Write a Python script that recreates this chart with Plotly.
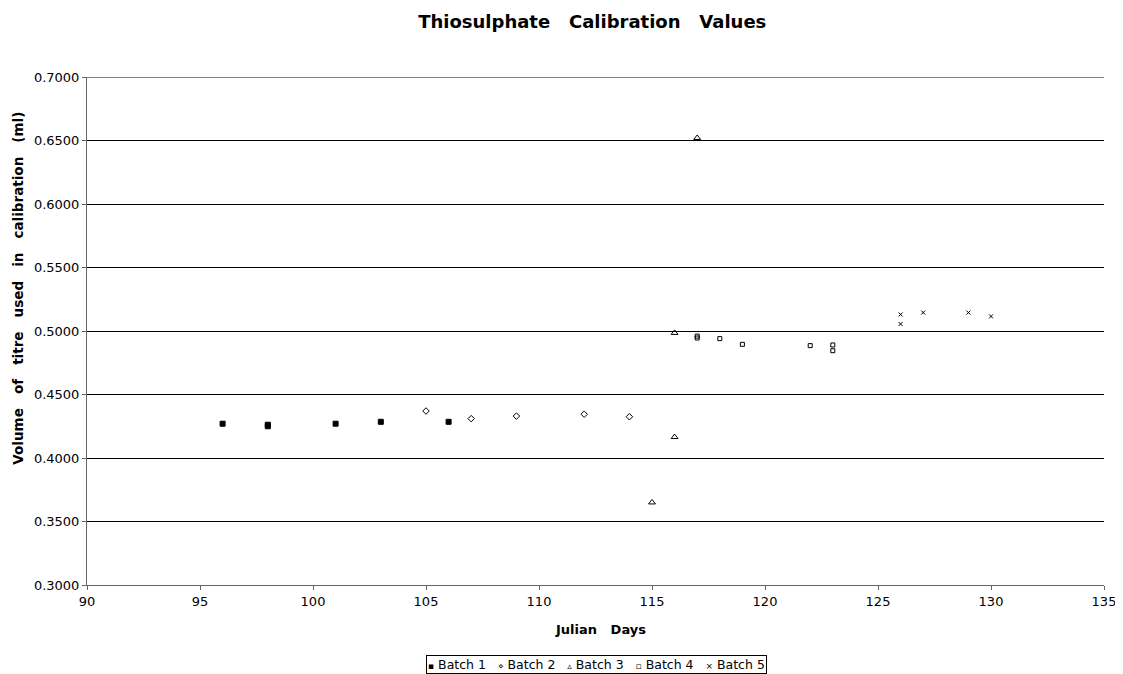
import plotly.graph_objects as go

# Julian day / titre volume per batch
b1_days = [96, 98, 98, 101, 103, 106]
b1_vals = [0.4270, 0.4262, 0.4250, 0.4270, 0.4285, 0.4285]

b2_days = [105, 107, 109, 112, 114]
b2_vals = [0.4370, 0.4310, 0.4330, 0.4345, 0.4325]

b3_days = [115, 116, 116, 117]
b3_vals = [0.3650, 0.4165, 0.4985, 0.6520]

b4_days = [117, 117, 118, 119, 122, 123, 123]
b4_vals = [0.4960, 0.4945, 0.4940, 0.4895, 0.4885, 0.4890, 0.4845]

b5_days = [126, 126, 127, 129, 130]
b5_vals = [0.5130, 0.5055, 0.5145, 0.5145, 0.5115]

font = "DejaVu Sans"

fig = go.Figure()

series = [
    ("Batch 1", b1_days, b1_vals, "square", 5, "▪"),
    ("Batch 2", b2_days, b2_vals, "diamond-open", 5, "⋄"),
    ("Batch 3", b3_days, b3_vals, "triangle-up-open", 6, "▵"),
    ("Batch 4", b4_days, b4_vals, "square-open", 4, "▫"),
    ("Batch 5", b5_days, b5_vals, "x-thin-open", 4, "×"),
]
for name, xs, ys, sym, size, _ in series:
    fig.add_trace(go.Scatter(
        x=xs, y=ys, name=name, mode="markers",
        marker=dict(symbol=sym, size=size, color="black",
                    line=dict(color="black", width=1)),
    ))

# top gridline at the edge of the range
fig.add_shape(type="line", xref="paper", yref="y", x0=0, x1=1, y0=0.7, y1=0.7,
              line=dict(color="black", width=1))

# compact boxed legend, like the original
legend_text = "   ".join(
    f'<span style="font-size:9px">{glyph}</span> {name}' for name, *_, glyph in series
)
fig.add_annotation(
    text=legend_text, xref="paper", yref="paper", x=0.5005, y=-0.157,
    xanchor="center", yanchor="middle", showarrow=False,
    font=dict(size=12.5, family=font), bordercolor="black", borderwidth=1,
    borderpad=1, bgcolor="white",
)

# axis titles placed as in the original (y title sits above centre)
fig.add_annotation(
    text="<b>Julian   Days</b>", xref="paper", yref="paper", x=0.505, y=-0.087,
    xanchor="center", yanchor="middle", showarrow=False,
    font=dict(size=13, family=font),
)
fig.add_annotation(
    text="<b>Volume   of   titre   used   in   calibration   (ml)</b>",
    xref="paper", yref="paper", x=-0.068, y=0.585, textangle=-90,
    xanchor="center", yanchor="middle", showarrow=False,
    font=dict(size=13.5, family=font),
)

# page body has an 8px margin, so the figure is sized to fit the window
fig.update_layout(
    width=1115, height=666,
    paper_bgcolor="white", plot_bgcolor="white",
    margin=dict(l=79, r=19, t=69, b=89, autoexpand=False),
    font=dict(family=font, size=13, color="black"),
    title=dict(text="<b>Thiosulphate   Calibration   Values</b>",
               x=0.524, xanchor="center", y=0.979, yanchor="middle",
               font=dict(size=18, family=font)),
    showlegend=False,
)

fig.update_xaxes(
    range=[90, 135], dtick=5, tick0=90, automargin=False,
    showgrid=False, zeroline=False,
    showline=True, linecolor="#666666", linewidth=1,
    ticks="outside", ticklen=4, tickcolor="#666666",
    tickfont=dict(size=13),
)
fig.update_yaxes(
    range=[0.3, 0.7], dtick=0.05, tick0=0.3, tickformat=".4f", automargin=False,
    showgrid=True, gridcolor="black", gridwidth=1, zeroline=False,
    showline=True, linecolor="#666666", linewidth=1,
    ticks="outside", ticklen=4, tickcolor="#666666",
    tickfont=dict(size=13),
)

fig.write_html("out.html")
